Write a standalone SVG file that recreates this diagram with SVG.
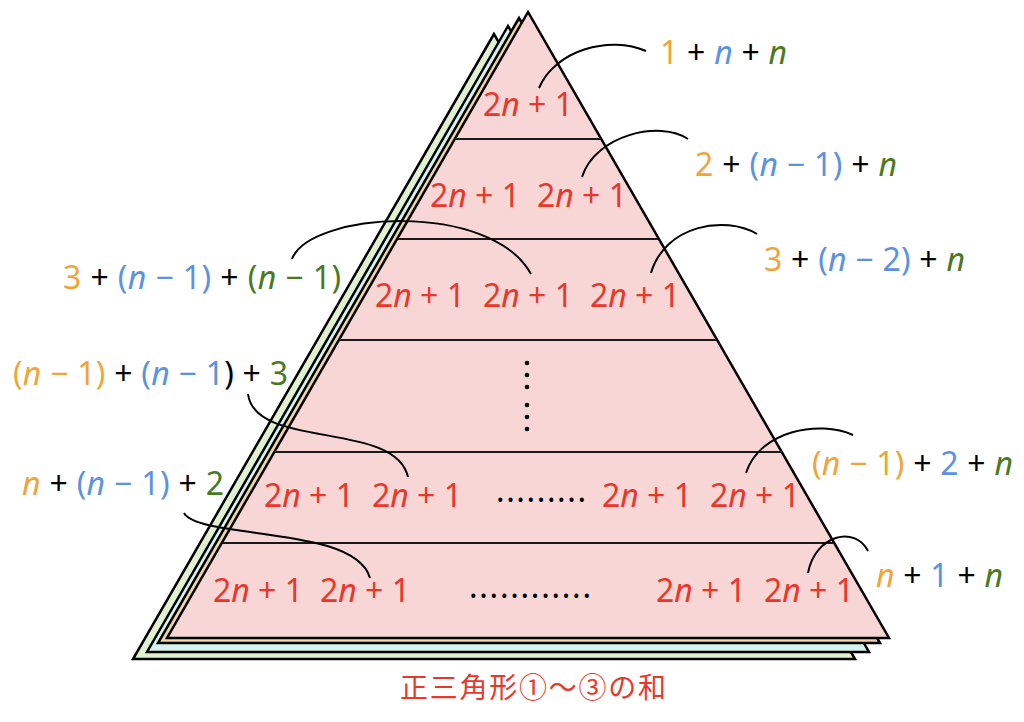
<svg xmlns="http://www.w3.org/2000/svg" width="1024" height="722" viewBox="0 0 1024 722">
<style>
.tri{stroke:#000;stroke-width:2.5;stroke-linejoin:miter}
.hl{stroke:#1a1a1a;stroke-width:2;fill:none}
.cv{stroke:#000;stroke-width:2;fill:none}
.t{font-family:"Noto Sans","Liberation Sans",sans-serif;font-size:32px}
.r{fill:#e8382c;text-anchor:middle}
.i{font-style:italic}
.o{fill:#eea63b}
.b{fill:#5b93e0}
.g{fill:#4a7a1e}
.k{fill:#000}
.cap{font-family:"Noto Sans CJK JP","Noto Sans CJK SC",sans-serif;font-size:28px;fill:#e8382c;text-anchor:middle}
</style>
<rect width="1024" height="722" fill="#fff"/>
<g id="layers">
<polygon class="tri" fill="#e0f1cf" points="494,34 133,659 855,659"/>
<polygon class="tri" fill="#d8f3ef" points="508,26 147,652 869,652"/>
<polygon class="tri" fill="#f0d3a6" points="519,18 158,643 880,643"/>
<polygon class="tri" fill="#f8d6d6" points="528,12 167,638 889,638"/>
</g>
<g id="rows">
<line class="hl" x1="455" y1="139" x2="601" y2="139"/>
<line class="hl" x1="398" y1="239" x2="658" y2="239"/>
<line class="hl" x1="339" y1="340" x2="717" y2="340"/>
<line class="hl" x1="274" y1="452" x2="782" y2="452"/>
<line class="hl" x1="222" y1="543" x2="834" y2="543"/>
</g>
<g id="row-terms" class="t">
<text class="r" x="528" y="116">2<tspan class="i">n</tspan> + 1</text>
<text class="r" x="475" y="207">2<tspan class="i">n</tspan> + 1</text>
<text class="r" x="582" y="207">2<tspan class="i">n</tspan> + 1</text>
<text class="r" x="420" y="307">2<tspan class="i">n</tspan> + 1</text>
<text class="r" x="528" y="307">2<tspan class="i">n</tspan> + 1</text>
<text class="r" x="635" y="307">2<tspan class="i">n</tspan> + 1</text>
<text class="r" x="309" y="507">2<tspan class="i">n</tspan> + 1</text>
<text class="r" x="417" y="507">2<tspan class="i">n</tspan> + 1</text>
<text class="r" x="647" y="507">2<tspan class="i">n</tspan> + 1</text>
<text class="r" x="755" y="507">2<tspan class="i">n</tspan> + 1</text>
<text class="r" x="258" y="602">2<tspan class="i">n</tspan> + 1</text>
<text class="r" x="365" y="602">2<tspan class="i">n</tspan> + 1</text>
<text class="r" x="701" y="602">2<tspan class="i">n</tspan> + 1</text>
<text class="r" x="809" y="602">2<tspan class="i">n</tspan> + 1</text>
<text class="k" x="496" y="502" textLength="90" lengthAdjust="spacing">.........</text>
<text class="k" x="469" y="598" textLength="122" lengthAdjust="spacing">............</text>
</g>
<g id="vdots" fill="#000">
<circle cx="527" cy="363" r="2.3"/><circle cx="527" cy="375" r="2.3"/><circle cx="527" cy="387" r="2.3"/>
<circle cx="527" cy="405" r="2.3"/><circle cx="527" cy="417" r="2.3"/><circle cx="527" cy="429" r="2.3"/>
</g>
<g id="connectors">
<path class="cv" d="M539,88 C555,50 610,35 646,51"/>
<path class="cv" d="M582,177 C595,135 660,120 688,139"/>
<path class="cv" d="M651,273 C665,225 725,215 757,234"/>
<path class="cv" d="M292,259 C310,212 490,200 531,274"/>
<path class="cv" d="M746,473 C760,430 820,420 853,435"/>
<path class="cv" d="M808,573 C815,535 855,525 868,551"/>
<path class="cv" d="M248,394 C255,450 395,420 408,477"/>
<path class="cv" d="M184,513 C200,540 355,525 370,578"/>
</g>
<g id="labels" class="t">
<text x="660" y="64" textLength="127" lengthAdjust="spacing"><tspan class="o">1</tspan><tspan class="k"> + </tspan><tspan class="b i">n</tspan><tspan class="k"> + </tspan><tspan class="g i">n</tspan></text>
<text x="695" y="176" textLength="202" lengthAdjust="spacing"><tspan class="o">2</tspan><tspan class="k"> + </tspan><tspan class="b">(<tspan class="i">n</tspan> − 1)</tspan><tspan class="k"> + </tspan><tspan class="g i">n</tspan></text>
<text x="764" y="271" textLength="201" lengthAdjust="spacing"><tspan class="o">3</tspan><tspan class="k"> + </tspan><tspan class="b">(<tspan class="i">n</tspan> − 2)</tspan><tspan class="k"> + </tspan><tspan class="g i">n</tspan></text>
<text x="63" y="289" textLength="278" lengthAdjust="spacing"><tspan class="o">3</tspan><tspan class="k"> + </tspan><tspan class="b">(<tspan class="i">n</tspan> − 1)</tspan><tspan class="k"> + </tspan><tspan class="g">(<tspan class="i">n</tspan> − 1)</tspan></text>
<text x="13" y="385" textLength="275" lengthAdjust="spacing"><tspan class="o">(<tspan class="i">n</tspan> − 1)</tspan><tspan class="k"> + </tspan><tspan class="b">(<tspan class="i">n</tspan> − 1</tspan><tspan class="k">) + </tspan><tspan class="g">3</tspan></text>
<text x="22" y="495" textLength="202" lengthAdjust="spacing"><tspan class="o i">n</tspan><tspan class="k"> + </tspan><tspan class="b">(<tspan class="i">n</tspan> − 1)</tspan><tspan class="k"> + </tspan><tspan class="g">2</tspan></text>
<text x="812" y="475" textLength="201" lengthAdjust="spacing"><tspan class="o">(<tspan class="i">n</tspan> − 1)</tspan><tspan class="k"> + </tspan><tspan class="b">2</tspan><tspan class="k"> + </tspan><tspan class="g i">n</tspan></text>
<text x="876" y="587" textLength="127" lengthAdjust="spacing"><tspan class="o i">n</tspan><tspan class="k"> + </tspan><tspan class="b">1</tspan><tspan class="k"> + </tspan><tspan class="g i">n</tspan></text>
</g>
<g id="caption">
<text class="cap" x="533" y="698" textLength="266" lengthAdjust="spacing">正三角形①〜③の和</text>
</g>
</svg>
